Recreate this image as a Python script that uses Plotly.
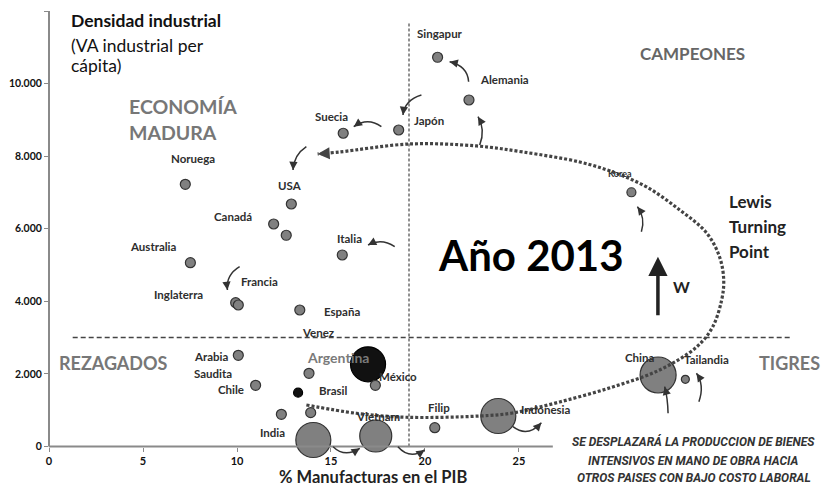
import math
import plotly.graph_objects as go

# ---------------- data ----------------
countries = ["Singapur", "Alemania", "Japón", "Suecia", "Noruega", "USA", "Canadá",
             "Otro A", "Italia", "Australia", "Inglaterra", "Francia", "España",
             "Arabia Saudita", "Chile", "India", "Brasil", "Otro B", "Argentina",
             "México", "Otro C", "Otro D", "Vietnam", "Filipinas", "Indonesia",
             "China", "Tailandia", "Korea"]
manuf_pct = [20.67, 22.34, 18.6, 15.65, 7.25, 12.89, 11.95, 12.62, 15.6, 7.52, 9.93,
             10.07, 13.34, 10.07, 10.99, 12.36, 13.25, 13.83, 16.97, 17.36, 13.92,
             14.06, 17.38, 20.52, 23.9, 32.4, 33.85, 30.98]
va_ind_pc = [10725, 9548, 8721, 8631, 7225, 6682, 6131, 5820, 5277, 5065, 3963,
             3899, 3761, 2513, 1686, 887, 1483, 2017, 2265, 1686, 932,
             179, 289, 518, 840, 1970, 1851, 7005]
bubble = [10, 10, 10, 10, 10, 10, 10, 10, 10, 10, 10, 10, 10, 10, 10, 10, 9, 10, 35,
          10, 10, 35, 32, 10, 35, 36, 8, 9]
is_black = ["Brasil", "Argentina"]

x_ticks = [0, 5, 10, 15, 20, 25]
y_ticks = [0, 2000, 4000, 6000, 8000, 10000, 12000]
y_ticktext = ["0", "2.000", "4.000", "6.000", "8.000", "10.000", "12.000"]

# trajectory (dotted loop) in data units
loop_x = [13.69, 16.35, 19.01, 22.91, 24.66, 27.16, 29.98, 32.48, 34.45, 35.30, 35.78,
          35.89, 35.67, 34.98, 33.55, 31.79, 29.98, 28.23, 25.19, 22.75, 19.19, 15.46, 14.29]
loop_y = [1144, 915, 805, 840, 923, 1226, 1640, 2108, 2742, 3293, 4037,
          4588, 5222, 5884, 6518, 7151, 7565, 7840, 8116, 8281, 8336, 8116, 8061]

FONT = "Lato"
PX_X = 18.8      # px per x unit
PX_Y = 0.03629   # px per y unit

fig = go.Figure()

fill = ["#111111" if c in is_black else "#808080" for c in countries]
edge = ["#000000" if c in is_black else "#333333" for c in countries]
fig.add_trace(go.Scatter(
    x=manuf_pct, y=va_ind_pc, mode="markers", text=countries,
    marker=dict(size=bubble, color=fill, opacity=1, line=dict(color=edge, width=1.2)),
    cliponaxis=False, hoverinfo="text", showlegend=False))

fig.add_trace(go.Scatter(
    x=loop_x, y=loop_y, mode="lines", line=dict(color="#444444", width=3.2, dash="3px,2px", shape="spline"),
    hoverinfo="skip", showlegend=False))

# ---------------- axes lines / reference lines ----------------
fig.add_shape(type="line", xref="paper", yref="y", x0=0, x1=0, y0=0, y1=12000,
              line=dict(color="#8a8a8a", width=2))
fig.add_shape(type="line", xref="x", yref="y", x0=0, x1=26.8, y0=0, y1=0,
              line=dict(color="#8a8a8a", width=2))
fig.add_shape(type="line", xref="x", yref="y", x0=19.15, x1=19.15, y0=0, y1=11700,
              line=dict(color="#222222", width=1, dash="3px,2px"), layer="below")
fig.add_shape(type="line", xref="x", yref="y", x0=1.26, x1=39.5, y0=3000, y1=3000,
              line=dict(color="#444444", width=1.5, dash="5px,3px"), layer="below")

# ---------------- curved arrows ----------------
arrows = [
    ((22.32, 10052), (22.27, 10485), (21.31, 10603)),
    ((19.81, 9687), (18.92, 9548), (18.83, 9135)),
    ((17.68, 8812), (16.95, 9080), (16.21, 8812)),
    ((22.91, 8308), (23.23, 8722), (22.82, 9088)),
    ((13.69, 8261), (13.02, 8033), (12.98, 7619)),
    ((18.39, 5506), (17.70, 5745), (16.97, 5553)),
    ((10.14, 4955), (9.40, 4726), (9.49, 4313)),
    ((31.51, 5919), (31.74, 6297), (31.30, 6608)),
    ((32.93, 915), (32.91, 1337), (32.75, 1648)),
    ((34.57, 1234), (34.88, 1695), (34.44, 2017)),
    ((24.68, 546), (25.46, 234), (26.19, 656)),
    ((15.11, -6), (15.73, -317), (16.53, -50)),
    ((18.56, -6), (19.19, -372), (19.98, -96)),
]
for s, c, e in arrows:
    fig.add_shape(type="path", xref="x", yref="y",
                  path=f"M {s[0]},{s[1]} Q {c[0]},{c[1]} {e[0]},{e[1]}",
                  line=dict(color="#333333", width=1.5))
    dx = (e[0] - c[0]) * PX_X
    dy = -(e[1] - c[1]) * PX_Y
    n = math.hypot(dx, dy) or 1
    fig.add_annotation(x=e[0], y=e[1], ax=-dx / n * 5, ay=-dy / n * 5, text="",
                       showarrow=True, arrowhead=2, arrowsize=1.1, arrowwidth=1.5,
                       arrowcolor="#333333")

# arrowhead of the loop
fig.add_annotation(x=loop_x[-1], y=loop_y[-1], ax=8, ay=-0.5, text="", showarrow=True,
                   arrowhead=2, arrowsize=1.2, arrowwidth=2, arrowcolor="#444444")
# big W arrow
fig.add_annotation(x=32.39, y=5230, ax=32.39, ay=3577, axref="x", ayref="y", text="",
                   showarrow=True, arrowhead=2, arrowsize=1.1, arrowwidth=3.5,
                   arrowcolor="#222222")

# ---------------- country labels ----------------
labels = [
    ("Singapur", 20.78, 11386), ("Alemania", 24.24, 10099), ("Japón", 20.2, 8978),
    ("Suecia", 15.02, 9088), ("Noruega", 7.64, 7922), ("USA", 12.80, 7205),
    ("Canadá", 9.77, 6350), ("Australia", 5.57, 5506), ("Francia", 11.21, 4552),
    ("Inglaterra", 6.90, 4175), ("Italia", 15.96, 5737), ("España", 15.59, 3715),
    ("Venez", 14.31, 3136), ("Brasil", 15.11, 1538), ("México", 18.56, 1923),
    ("Filip", 20.74, 1069), ("Vietnam", 17.5, 821), ("Indonesia", 26.42, 1033),
    ("Chile", 9.70, 1557), ("India", 11.88, 380), ("China", 31.42, 2458),
    ("Tailandia", 34.97, 2384),
]
for t, x, y in labels:
    fig.add_annotation(x=x, y=y, text=f"<b>{t}</b>", showarrow=False,
                       font=dict(family=FONT, size=11.5, color="#2e2e2e"))
for t, y in [("Arabia", 2475), ("Saudita", 2017)]:
    fig.add_annotation(x=7.63, y=y, text=f"<b>{t}</b>", showarrow=False, xanchor="left",
                       font=dict(family=FONT, size=11.5, color="#2e2e2e"))
fig.add_annotation(x=30.36, y=7528, text="<b>Korea</b>", showarrow=False,
                   font=dict(family=FONT, size=9, color="#333333"))
fig.add_annotation(x=15.37, y=2458, text="<b>Argentina</b>", showarrow=False,
                   font=dict(family=FONT, size=14, color="#7a7a7a"))

# ---------------- other texts ----------------
def txt(x, y, text, size, color="#222222", xanchor="center", bold=True, family=FONT, style="normal"):
    t = f"<b>{text}</b>" if bold else text
    fig.add_annotation(x=x, y=y, text=t, showarrow=False, xanchor=xanchor,
                       font=dict(family=family, size=size, color=color, style=style))

txt(1.05, 11752, "Densidad industrial", 17.5, "#111111", "left")
txt(1.05, 11063, "(VA industrial per", 17.5, "#111111", "left", bold=False)
txt(1.05, 10512, "cápita)", 17.5, "#111111", "left", bold=False)
txt(4.17, 9364, "ECONOMÍA", 19.5, "#777777", "left")
txt(4.17, 8639, "MADURA", 19.5, "#777777", "left")
txt(34.24, 10822, "CAMPEONES", 17, "#666666")
txt(3.45, 2293, "REZAGADOS", 18, "#777777")
txt(39.40, 2293, "TIGRES", 18, "#777777")
txt(36.09, 6746, "Lewis", 17, "#222222", "left")
txt(36.09, 6057, "Turning", 17, "#222222", "left")
txt(36.09, 5368, "Point", 17, "#222222", "left")
txt(25.64, 5277, "Año 2013", 42, "#000000")
txt(33.64, 4403, "W", 16, "#222222")
txt(17.22, -840, "% Manufacturas en el PIB", 16.5, "#222222")
for line, yy in [("SE DESPLAZARÁ LA PRODUCCION DE BIENES", 132),
                 ("INTENSIVOS EN MANO DE OBRA HACIA", -400),
                 ("OTROS PAISES CON BAJO COSTO LABORAL", -876)]:
    txt(34.29, yy, line, 12, "#333333", family="Roboto", style="italic")

# page body has an 8px margin: figure is 8px smaller so it fills the 832x488 window
fig.update_layout(
    width=824, height=480,
    margin=dict(l=41, r=0, t=3, b=0),
    paper_bgcolor="white", plot_bgcolor="rgba(0,0,0,0)",
    showlegend=False, hovermode="closest",
    font=dict(family=FONT, size=11, color="#222222"),
    xaxis=dict(range=[0, 41.65], showgrid=False, zeroline=False, showline=False,
               anchor="free", position=0.087, tickvals=x_ticks,
               ticks="outside", ticklen=4, tickcolor="#8a8a8a",
               tickfont=dict(family=FONT, size=11, color="#111111", weight="bold")),
    yaxis=dict(range=[-1144, 12000], showgrid=False, zeroline=False, showline=False,
               tickvals=y_ticks, ticktext=y_ticktext, ticks="outside", ticklen=4,
               tickcolor="#8a8a8a",
               tickfont=dict(family=FONT, size=10.5, color="#111111", weight="bold")),
)

fig.write_html("out.html")
